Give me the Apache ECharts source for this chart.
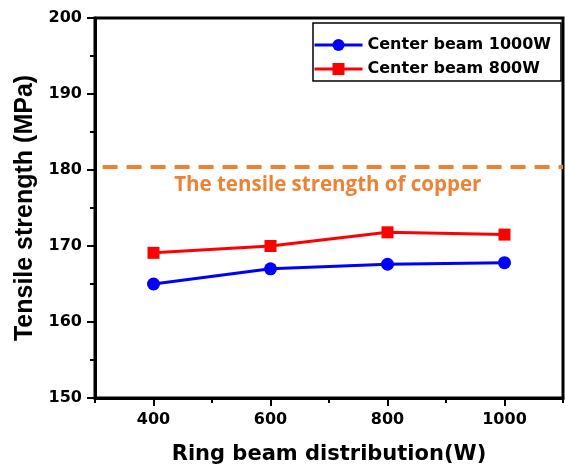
<!DOCTYPE html>
<html><head><meta charset="utf-8">
<script src="https://cdn.jsdelivr.net/npm/echarts@6/dist/echarts.min.js"></script>
<style>html,body{margin:0;padding:0;background:#fff}#c{width:565px;height:473px}</style>
</head><body><div id="c"></div>
<script>
const ringBeam = [400, 600, 800, 1000];
const center1000W = [165.0, 167.0, 167.6, 167.8];
const center800W = [169.1, 170.0, 171.8, 171.5];
const copperStrength = 180.4;
const copperLineFrom = 313;
const xTickValues = ['300','400','500','600','700','800','900','1000','1100'];
const xMajorLabels = ['400','600','800','1000'];
const seriesNames = ['Center beam 1000W', 'Center beam 800W'];
const copperLabel = 'The tensile strength of copper';

const chart = echarts.init(document.getElementById('c'), null, {renderer: 'canvas'});
const tickFont = {fontFamily: 'DejaVu Sans', fontWeight: 'bold', fontSize: 16, color: '#000'};
const isMajor = (i, v) => xMajorLabels.indexOf(String(v)) >= 0;

chart.setOption({
  animation: false,
  backgroundColor: '#fff',
  grid: {left: 95, top: 18, width: 468, height: 380, show: true, borderColor: '#000', borderWidth: 3, backgroundColor: 'transparent'},
  legend: {
    orient: 'vertical', left: 313, top: 23,
    padding: [13, 10, 3, 0],
    itemWidth: 48, itemHeight: 15, itemGap: 6,
    backgroundColor: '#fff', borderColor: '#000', borderWidth: 1.5,
    lineStyle: {width: 3},
    textStyle: {fontFamily: 'DejaVu Sans', fontWeight: 'bold', fontSize: 16, color: '#000', lineHeight: 18},
    data: seriesNames
  },
  xAxis: [
    {
      type: 'value', min: 300, max: 1100, interval: 100,
      axisLine: {show: true, lineStyle: {color: '#000', width: 3}},
      axisTick: {show: true, length: 5, lineStyle: {color: '#000', width: 2}},
      axisLabel: {show: false},
      splitLine: {show: false},
      name: 'Ring beam distribution(W)', nameLocation: 'middle', nameGap: 46,
      nameTextStyle: {fontFamily: 'DejaVu Sans', fontWeight: 'bold', fontSize: 21, color: '#000'}
    },
    {
      type: 'category', data: xTickValues, boundaryGap: false, position: 'bottom',
      axisLine: {show: false},
      axisTick: {show: true, interval: isMajor, length: 8, lineStyle: {color: '#000', width: 2}},
      axisLabel: Object.assign({interval: isMajor, margin: 14}, tickFont),
      splitLine: {show: false}
    }
  ],
  yAxis: {
    type: 'value', min: 150, max: 200, interval: 10,
    axisLine: {show: true, lineStyle: {color: '#000', width: 3}},
    axisTick: {show: true, length: 8, lineStyle: {color: '#000', width: 2}},
    minorTick: {show: true, splitNumber: 2, length: 5, lineStyle: {color: '#000', width: 2}},
    axisLabel: Object.assign({margin: 13}, tickFont),
    splitLine: {show: false}, minorSplitLine: {show: false},
    name: 'Tensile strength (MPa)', nameLocation: 'middle', nameGap: 54,
    nameTextStyle: {fontFamily: 'Liberation Sans', fontWeight: 'bold', fontSize: 25, color: '#000'}
  },
  series: [
    {
      name: seriesNames[0], type: 'line', xAxisIndex: 0,
      data: ringBeam.map((x, i) => [x, center1000W[i]]),
      symbol: 'circle', symbolSize: 13,
      lineStyle: {color: '#0000FF', width: 3}, itemStyle: {color: '#0000FF'},
      emphasis: {disabled: true}, z: 3,
      markLine: {
        silent: true, symbol: 'none',
        lineStyle: {color: '#EE8133', width: 4, type: [15, 9]},
        label: {show: true, formatter: copperLabel, position: 'insideMiddleBottom', distance: 8, offset: [-5, 0],
          color: '#EE8133', fontFamily: 'Open Sans', fontWeight: 'bold', fontSize: 20.5},
        data: [[{coord: [copperLineFrom, copperStrength]}, {coord: [1100, copperStrength]}]]
      }
    },
    {
      name: seriesNames[1], type: 'line', xAxisIndex: 0,
      data: ringBeam.map((x, i) => [x, center800W[i]]),
      symbol: 'rect', symbolSize: 12,
      lineStyle: {color: '#FF0000', width: 3}, itemStyle: {color: '#FF0000'},
      emphasis: {disabled: true}, z: 3
    }
  ]
});
</script></body></html>
